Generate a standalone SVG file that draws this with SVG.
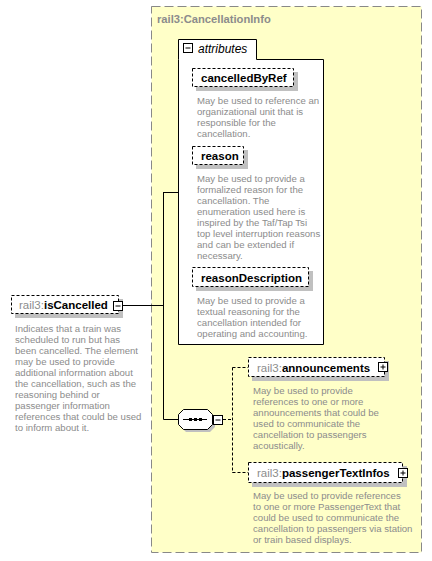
<svg xmlns="http://www.w3.org/2000/svg" width="432" height="561" viewBox="0 0 432 561">
  <style>
    .name { font-family: "Liberation Sans", Arial, sans-serif; font-size: 11.5px; font-weight: bold; fill: #000; }
    .pre { font-family: "Liberation Sans", Arial, sans-serif; font-size: 11.5px; fill: #8c8c8c; font-weight: normal; }
    .desc { font-family: "Liberation Sans", Arial, sans-serif; font-size: 9.6px; fill: #8c8c8c; }
    .title { font-family: "Liberation Sans", Arial, sans-serif; font-size: 11.2px; font-weight: bold; fill: #8c8c8c; }
    .ital { font-family: "Liberation Sans", Arial, sans-serif; font-size: 12px; font-style: italic; fill: #000; }
    .elem { fill: #fff; stroke: #000; stroke-width: 1; stroke-dasharray: 3 2; }
    .shadow { fill: #c0c0c0; }
    .icon { fill: #fff; stroke: #000; stroke-width: 1; }
    .conn { fill: none; stroke: #000; stroke-width: 1; }
    .opt { fill: none; stroke: #000; stroke-width: 1; stroke-dasharray: 3 2; }
  </style>

  <!-- complex type container -->
  <g id="CancellationInfo">
    <rect x="151.5" y="6.5" width="270" height="546" fill="#ffffc8" stroke="#888" stroke-dasharray="9 4"/>
    <text class="title" x="157" y="23">rail3:CancellationInfo</text>
  </g>

  <!-- connectors -->
  <g id="connectors">
    <path class="conn" d="M122,305.5 H163.5 M163.5,192 V419.5 M163.5,192.5 H178 M163.5,419.5 H178"/>
    <path class="opt" d="M223,419.5 H232.5 M232.5,367.5 V473 M232.5,367.5 H248 M232.5,472.5 H248"/>
  </g>

  <!-- attributes group -->
  <g id="attributes">
    <path d="M178.5,59.5 V39.5 H256.5 V59.5 H323.5 V344.5 H178.5 Z" fill="#fff" stroke="#000"/>
    <rect class="icon" x="183.5" y="43.5" width="9" height="9"/>
    <path class="conn" d="M185.5,48 H190.5"/>
    <text class="ital" x="198" y="53">attributes</text>
  </g>

  <g id="cancelledByRef">
    <rect class="shadow" x="196" y="72" width="102" height="19"/>
    <rect class="elem" x="192.5" y="68.5" width="101" height="18"/>
    <text class="name" x="201" y="82">cancelledByRef</text>
    <text class="desc" x="197" y="104">May be used to reference an</text>
    <text class="desc" x="197" y="115">organizational unit that is</text>
    <text class="desc" x="197" y="125.5">responsible for the</text>
    <text class="desc" x="197" y="136.5">cancellation.</text>
  </g>

  <g id="reason">
    <rect class="shadow" x="196" y="150" width="52" height="19"/>
    <rect class="elem" x="192.5" y="146.5" width="51" height="18"/>
    <text class="name" x="201" y="160">reason</text>
    <text class="desc" x="197" y="182">May be used to provide a</text>
    <text class="desc" x="197" y="193">formalized reason for the</text>
    <text class="desc" x="197" y="204">cancellation. The</text>
    <text class="desc" x="197" y="215">enumeration used here is</text>
    <text class="desc" x="197" y="226">inspired by the Taf/Tap Tsi</text>
    <text class="desc" x="197" y="237">top level interruption reasons</text>
    <text class="desc" x="197" y="248">and can be extended if</text>
    <text class="desc" x="197" y="259">necessary.</text>
  </g>

  <g id="reasonDescription">
    <rect class="shadow" x="196" y="271" width="117" height="20"/>
    <rect class="elem" x="192.5" y="267.5" width="116" height="19"/>
    <text class="name" x="201" y="282">reasonDescription</text>
    <text class="desc" x="197" y="304">May be used to provide a</text>
    <text class="desc" x="197" y="315">textual reasoning for the</text>
    <text class="desc" x="197" y="326">cancellation intended for</text>
    <text class="desc" x="197" y="337">operating and accounting.</text>
  </g>

  <!-- root element -->
  <g id="isCancelled">
    <rect class="shadow" x="15" y="299" width="108" height="19"/>
    <rect class="elem" x="11.5" y="295.5" width="107" height="18"/>
    <text x="19" y="309"><tspan class="pre">rail3:</tspan><tspan class="name">isCancelled</tspan></text>
    <rect class="icon" x="113.5" y="301.5" width="9" height="9"/>
    <path class="conn" d="M115.5,306 H120.5"/>
    <text class="desc" x="15" y="332">Indicates that a train was</text>
    <text class="desc" x="15" y="343">scheduled to run but has</text>
    <text class="desc" x="15" y="354">been cancelled. The element</text>
    <text class="desc" x="15" y="365">may be used to provide</text>
    <text class="desc" x="15" y="376">additional information about</text>
    <text class="desc" x="15" y="387">the cancellation, such as the</text>
    <text class="desc" x="15" y="398">reasoning behind or</text>
    <text class="desc" x="15" y="409">passenger information</text>
    <text class="desc" x="15" y="420">references that could be used</text>
    <text class="desc" x="15" y="431">to inform about it.</text>
  </g>

  <!-- sequence compositor -->
  <g id="sequence">
    <path class="shadow" d="M186,413 H210 L215,418 V427 L210,432 H186 L181,427 V418 Z"/>
    <path d="M183.5,409.5 H207.5 L212.5,414.5 V424.5 L207.5,429.5 H183.5 L178.5,424.5 V414.5 Z" fill="#fff" stroke="#000"/>
    <path class="conn" d="M183,419.5 H207"/>
    <rect x="189" y="418" width="3" height="3" fill="#000"/>
    <rect x="194" y="418" width="3" height="3" fill="#000"/>
    <rect x="199" y="418" width="3" height="3" fill="#000"/>
    <rect class="icon" x="213.5" y="415.5" width="9" height="9"/>
    <path class="conn" d="M215.5,420 H220.5"/>
  </g>

  <g id="announcements">
    <rect class="shadow" x="252" y="361" width="137" height="20"/>
    <rect class="elem" x="248.5" y="357.5" width="136" height="19"/>
    <text x="257" y="372"><tspan class="pre">rail3:</tspan><tspan class="name">announcements</tspan></text>
    <rect class="icon" x="378.5" y="362.5" width="9" height="9"/>
    <path class="conn" d="M380.5,367 H385.5 M383,364.5 V369.5"/>
    <text class="desc" x="253" y="394">May be used to provide</text>
    <text class="desc" x="253" y="405">references to one or more</text>
    <text class="desc" x="253" y="416">announcements that could be</text>
    <text class="desc" x="253" y="427">used to communicate the</text>
    <text class="desc" x="253" y="438">cancellation to passengers</text>
    <text class="desc" x="253" y="449">acoustically.</text>
  </g>

  <g id="passengerTextInfos">
    <rect class="shadow" x="252" y="466" width="155" height="21"/>
    <rect class="elem" x="248.5" y="462.5" width="154" height="20"/>
    <text x="257" y="477"><tspan class="pre">rail3:</tspan><tspan class="name">passengerTextInfos</tspan></text>
    <rect class="icon" x="398.5" y="468.5" width="9" height="9"/>
    <path class="conn" d="M400.5,473 H405.5 M403,470.5 V475.5"/>
    <text class="desc" x="253" y="499">May be used to provide references</text>
    <text class="desc" x="253" y="510">to one or more PassengerText that</text>
    <text class="desc" x="253" y="521">could be used to communicate the</text>
    <text class="desc" x="253" y="532">cancellation to passengers via station</text>
    <text class="desc" x="253" y="543">or train based displays.</text>
  </g>
</svg>
